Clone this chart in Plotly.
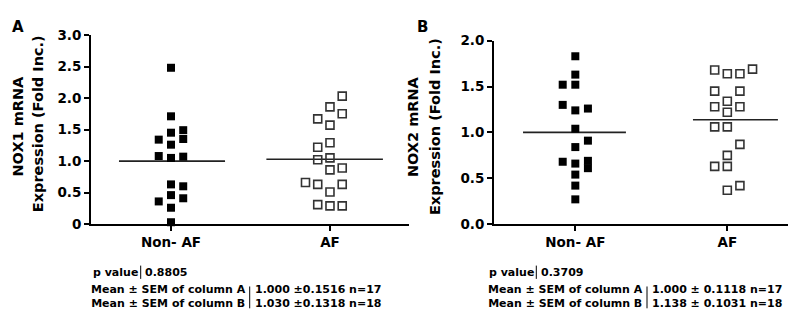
import plotly.graph_objects as go

W, H = 796, 314

# ---------------- data ----------------
categories = ["Non- AF", "AF"]

# Panel A: NOX1 mRNA expression
nox1_nonaf = [2.48, 1.71, 1.45, 1.49, 1.35, 1.34, 1.26, 1.08, 1.05, 1.07,
              0.63, 0.60, 0.46, 0.41, 0.36, 0.26, 0.03]
nox1_nonaf_col = [0, 0, 0, 1, 1, -1, 0, -1, 0, 1, 0, 1, 0, 1, -1, 0, 0]
nox1_af = [2.03, 1.86, 1.75, 1.67, 1.57, 1.29, 1.22, 1.02, 1.05, 0.86,
           0.89, 0.66, 0.63, 0.63, 0.51, 0.31, 0.29, 0.29]
nox1_af_col = [1, 0, 1, -1, 0, 0, -1, -1, 0, 0, 1, -2, -1, 1, 0, -1, 0, 1]

# Panel B: NOX2 mRNA expression
nox2_nonaf = [1.83, 1.63, 1.52, 1.52, 1.30, 1.24, 1.26, 1.04, 0.91, 0.84,
              0.68, 0.66, 0.69, 0.61, 0.54, 0.42, 0.27]
nox2_nonaf_col = [0, 0, -1, 0, -1, 0, 1, 0, 1, 0, -1, 0, 1, 1, 0, 0, 0]
nox2_af = [1.68, 1.64, 1.64, 1.69, 1.45, 1.45, 1.34, 1.28, 1.28, 1.22,
           1.06, 1.06, 0.87, 0.75, 0.63, 0.63, 0.37, 0.42]
nox2_af_col = [-1, 0, 1, 2, -1, 1, 0, -1, 1, 0, -1, 0, 1, 0, -1, 0, 0, 1]

# statistics
nox1_mean = [1.000, 1.030]
nox1_sem = ["0.1516", "0.1318"]
nox1_n = [17, 18]
nox1_p = "0.8805"
nox2_mean = [1.000, 1.138]
nox2_sem = ["0.1118", "0.1031"]
nox2_n = [17, 18]
nox2_p = "0.3709"

ytick_vals_a = [0, 0.5, 1.0, 1.5, 2.0, 2.5, 3.0]
ytick_text_a = ["0", "0.5", "1.0", "1.5", "2.0", "2.5", "3.0"]
ytick_vals_b = [0, 0.5, 1.0, 1.5, 2.0]
ytick_text_b = ["0.0", "0.5", "1.0", "1.5", "2.0"]

# ---------------- styling ----------------
FONT = "DejaVu Sans"
COL_A = 0.077   # jitter column spacing (x units)
COL_B = 0.083

def px(x):
    return x / W

def py(y):
    return 1 - y / H

fig = go.Figure()

def add_group(vals, cols, xc, step, filled, xa, ya):
    xs = [xc + c * step for c in cols]
    if filled:
        marker = dict(symbol="square", size=8, color="black",
                      line=dict(width=0))
    else:
        marker = dict(symbol="square-open", size=8, color="#333333",
                      line=dict(width=1.6, color="#333333"))
    fig.add_trace(go.Scatter(x=xs, y=vals, mode="markers", marker=marker,
                             xaxis=xa, yaxis=ya, showlegend=False,
                             cliponaxis=False, hoverinfo="y"))

def add_mean(m, x0, x1, xa, ya):
    fig.add_trace(go.Scatter(x=[x0, x1], y=[m, m], mode="lines",
                             line=dict(color="#222222", width=1.6),
                             xaxis=xa, yaxis=ya, showlegend=False,
                             hoverinfo="skip"))

# Panel A
add_mean(nox1_mean[0], -0.327, 0.34, "x", "y")
add_mean(nox1_mean[1], 0.60, 1.333, "x", "y")
add_group(nox1_nonaf, nox1_nonaf_col, 0, COL_A, True, "x", "y")
add_group(nox1_af, nox1_af_col, 1, COL_A, False, "x", "y")

# Panel B
add_mean(nox2_mean[0], -0.344, 0.333, "x2", "y2")
add_mean(nox2_mean[1], 0.774, 1.333, "x2", "y2")
add_group(nox2_nonaf, nox2_nonaf_col, 0, COL_B, True, "x2", "y2")
add_group(nox2_af, nox2_af_col, 1, COL_B, False, "x2", "y2")

axis_common = dict(showline=True, linecolor="black", linewidth=2,
                   showgrid=False, zeroline=False, ticks="outside",
                   ticklen=5, tickwidth=1.5, tickcolor="black",
                   tickfont=dict(family=FONT, size=13.5, color="black",
                                 weight="bold"))

fig.update_layout(
    width=W, height=H, autosize=False,
    margin=dict(l=0, r=0, t=0, b=0),
    paper_bgcolor="white", plot_bgcolor="white",
    xaxis=dict(domain=[px(83), px(401)], range=[-0.503, 1.497],
               tickvals=[0, 1], ticktext=categories, anchor="y",
               **axis_common),
    yaxis=dict(domain=[py(219.3), py(20)], range=[0, 3.0],
               tickvals=ytick_vals_a, ticktext=ytick_text_a, anchor="x",
               **axis_common),
    xaxis2=dict(domain=[px(486), px(795)], range=[-0.535, 1.498],
                tickvals=[0, 1], ticktext=categories, anchor="y2",
                **axis_common),
    yaxis2=dict(domain=[py(219.3), py(26)], range=[0, 2.0],
                tickvals=ytick_vals_b, ticktext=ytick_text_b, anchor="x2",
                **axis_common),
)

ann = []

def text(s, x, y, xanchor="left", size=11, angle=0, align="left"):
    ann.append(dict(text=s, x=px(x), y=py(y), xref="paper", yref="paper",
                    xanchor=xanchor, yanchor="middle", showarrow=False,
                    textangle=angle, align=align, borderpad=0,
                    font=dict(family=FONT, size=size, color="black",
                              weight="bold")))

# panel letters
text("A", 3, 12, size=15)
text("B", 408, 12, size=15)

# y-axis titles
text("NOX1 mRNA", 10, 116.5, xanchor="center", size=14.5, angle=-90)
text("Expression (Fold Inc.)", 30, 114, xanchor="center", size=14.5, angle=-90)
text("NOX2 mRNA", 405, 116, xanchor="center", size=14.5, angle=-90)
text("Expression (Fold Inc.)", 427, 117, xanchor="center", size=14.5, angle=-90)

shapes = []

def vbar(x, y0, y1):
    shapes.append(dict(type="line", xref="paper", yref="paper",
                       x0=px(x), x1=px(x), y0=py(y0), y1=py(y1),
                       line=dict(color="black", width=1)))

STAT = 11

# Panel A statistics
text("p value", 131, 270, xanchor="right", size=STAT)
vbar(132.7, 263, 277)
text(nox1_p, 136, 270, size=STAT)
text("Mean ± SEM of column A<br>Mean ± SEM of column B", 239, 296,
     xanchor="right", align="right", size=STAT)
vbar(241.7, 285, 308)
text(f"{nox1_mean[0]:.3f} ±{nox1_sem[0]} n={nox1_n[0]}<br>"
     f"{nox1_mean[1]:.3f} ±{nox1_sem[1]} n={nox1_n[1]}", 246, 296, size=STAT)

# Panel B statistics
text("p value", 526.5, 270, xanchor="right", size=STAT)
vbar(528.3, 263, 277)
text(nox2_p, 532, 270, size=STAT)
text("Mean ± SEM of column A<br>Mean ± SEM of column B", 636, 296,
     xanchor="right", align="right", size=STAT)
vbar(639, 285, 308)
text(f"{nox2_mean[0]:.3f} ± {nox2_sem[0]} n={nox2_n[0]}<br>"
     f"{nox2_mean[1]:.3f} ± {nox2_sem[1]} n={nox2_n[1]}", 643, 296, size=STAT)

fig.update_layout(annotations=ann, shapes=shapes)

fig.write_html("out.html")
